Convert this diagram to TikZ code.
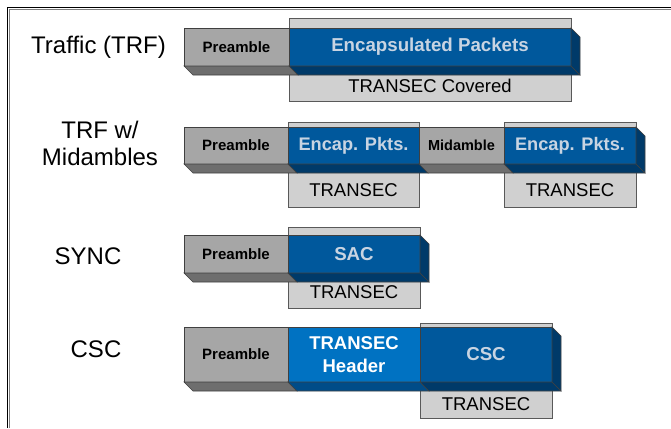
\documentclass[tikz,border=0pt]{standalone}
\usepackage{fontspec}
\setmainfont{Liberation Sans}
\usetikzlibrary{positioning}

\definecolor{pregray}{RGB}{166,166,166}
\definecolor{preshadow}{RGB}{110,110,110}
\definecolor{encblue}{RGB}{0,88,156}
\definecolor{encshadow}{RGB}{0,58,105}
\definecolor{hdrblue}{RGB}{0,114,194}
\definecolor{hdrshadow}{RGB}{0,76,136}
\definecolor{covgray}{RGB}{208,208,208}
\definecolor{enctext}{RGB}{200,212,226}

\tikzset{
  seg/.style={draw=black!75, line width=0.6pt, inner sep=0pt, outer sep=0pt},
  pre/.style={seg, fill=pregray, font=\bfseries\fontsize{15}{15}\selectfont},
  enc/.style={seg, fill=encblue, text=enctext, font=\bfseries\fontsize{18.7}{18.7}\selectfont},
  hdr/.style={seg, fill=hdrblue, text=white, align=center, font=\bfseries\fontsize{18.5}{23}\selectfont},
  preface/.style={fill=preshadow, draw=black!75, line width=0.6pt},
  encface/.style={fill=encshadow, draw=black!75, line width=0.6pt},
  hdrface/.style={fill=hdrshadow, draw=black!75, line width=0.6pt},
  cov/.style={draw=black!65, line width=0.6pt, fill=covgray, inner sep=0pt, outer sep=0pt, anchor=north west},
  covtext/.style={font=\fontsize{18.5}{18.5}\selectfont},
  rowlabel/.style={align=center, font=\fontsize{24}{27}\selectfont}
}

\begin{document}
\begin{tikzpicture}[x=1pt,y=-1pt]
	\useasboundingbox (0,0) rectangle (671,428);
	% frame
	\draw[gray, line width=1pt] (9.5,428) -- (9.5,9.5) -- (671,9.5);
	\draw[line width=1.8pt] (7.5,428) -- (7.5,7.5) -- (671,7.5);

	% Traffic (TRF)
	\node[rowlabel] (lab1) at (98.5,47) {Traffic (TRF)};
	\node[cov, minimum width=282pt, minimum height=83pt] (cov1) at (289,18) {};
	\node[covtext] (ct1) at (430,86) {TRANSEC Covered};
	\node[pre, anchor=north west, minimum width=105pt, minimum height=38pt] (pre1) at (184,28) {Preamble};
	\node[enc, right=0pt of pre1, minimum width=282pt, minimum height=38pt] (enc1) {Encapsulated Packets};
	\filldraw[preface] (pre1.south west) -- ++(9,9) -- ([shift={(9,9)}]pre1.south east) -- (pre1.south east) -- cycle;
	\filldraw[encface] (enc1.south west) -- ++(9,9) -- ([shift={(9,9)}]enc1.south east) -- (enc1.south east) -- cycle;
	\filldraw[encface] (enc1.north east) -- ++(9,9) -- ([shift={(9,9)}]enc1.south east) -- (enc1.south east) -- cycle;

	% TRF w/ Midambles
	\node[rowlabel] (lab2) at (100,143) {TRF w/\\Midambles};
	\node[cov, minimum width=131pt, minimum height=85pt] (cov2a) at (288,122) {};
	\node[cov, minimum width=132pt, minimum height=85pt] (cov2b) at (504,122) {};
	\node[covtext] (ct2a) at (353.5,190) {TRANSEC};
	\node[covtext] (ct2b) at (570,190) {TRANSEC};
	\node[pre, anchor=north west, minimum width=104pt, minimum height=37pt] (pre2) at (184,127) {Preamble};
	\node[enc, right=0pt of pre2, minimum width=131pt, minimum height=37pt, font=\bfseries\fontsize{18.2}{18.2}\selectfont] (enc2a) {Encap. Pkts.};
	\node[pre, right=0pt of enc2a, minimum width=85pt, minimum height=37pt, font=\bfseries\fontsize{14.5}{14.5}\selectfont] (mid2) {Midamble};
	\node[enc, right=0pt of mid2, minimum width=132pt, minimum height=37pt, font=\bfseries\fontsize{18.2}{18.2}\selectfont] (enc2b) {Encap. Pkts.};
	\filldraw[preface] (pre2.south west) -- ++(9,9) -- ([shift={(9,9)}]pre2.south east) -- (pre2.south east) -- cycle;
	\filldraw[encface] (enc2a.south west) -- ++(9,9) -- ([shift={(9,9)}]enc2a.south east) -- (enc2a.south east) -- cycle;
	\filldraw[preface] (mid2.south west) -- ++(9,9) -- ([shift={(9,9)}]mid2.south east) -- (mid2.south east) -- cycle;
	\filldraw[encface] (enc2b.south west) -- ++(9,9) -- ([shift={(9,9)}]enc2b.south east) -- (enc2b.south east) -- cycle;
	\filldraw[encface] (enc2b.north east) -- ++(9,9) -- ([shift={(9,9)}]enc2b.south east) -- (enc2b.south east) -- cycle;

	% SYNC
	\node[rowlabel] (lab3) at (88,256) {SYNC};
	\node[cov, minimum width=132pt, minimum height=81pt] (cov3) at (288,227) {};
	\node[covtext] (ct3) at (354,292) {TRANSEC};
	\node[pre, anchor=north west, minimum width=104pt, minimum height=38pt] (pre3) at (184,235) {Preamble};
	\node[enc, right=0pt of pre3, minimum width=132pt, minimum height=38pt] (sac3) {SAC};
	\filldraw[preface] (pre3.south west) -- ++(9,9) -- ([shift={(9,9)}]pre3.south east) -- (pre3.south east) -- cycle;
	\filldraw[encface] (sac3.south west) -- ++(9,9) -- ([shift={(9,9)}]sac3.south east) -- (sac3.south east) -- cycle;
	\filldraw[encface] (sac3.north east) -- ++(9,9) -- ([shift={(9,9)}]sac3.south east) -- (sac3.south east) -- cycle;

	% CSC
	\node[rowlabel] (lab4) at (96,349) {CSC};
	\node[cov, minimum width=132pt, minimum height=95pt] (cov4) at (420,323) {};
	\node[covtext] (ct4) at (486,404) {TRANSEC};
	\node[pre, anchor=north west, minimum width=104pt, minimum height=55pt] (pre4) at (184,327) {Preamble};
	\node[hdr, right=0pt of pre4, minimum width=132pt, minimum height=55pt] (hdr4) {TRANSEC\\Header};
	\node[enc, right=0pt of hdr4, minimum width=132pt, minimum height=55pt] (csc4) {CSC};
	\filldraw[preface] (pre4.south west) -- ++(9,9) -- ([shift={(9,9)}]pre4.south east) -- (pre4.south east) -- cycle;
	\filldraw[hdrface] (hdr4.south west) -- ++(9,9) -- ([shift={(9,9)}]hdr4.south east) -- (hdr4.south east) -- cycle;
	\filldraw[encface] (csc4.south west) -- ++(9,9) -- ([shift={(9,9)}]csc4.south east) -- (csc4.south east) -- cycle;
	\filldraw[encface] (csc4.north east) -- ++(9,9) -- ([shift={(9,9)}]csc4.south east) -- (csc4.south east) -- cycle;
\end{tikzpicture}
\end{document}
